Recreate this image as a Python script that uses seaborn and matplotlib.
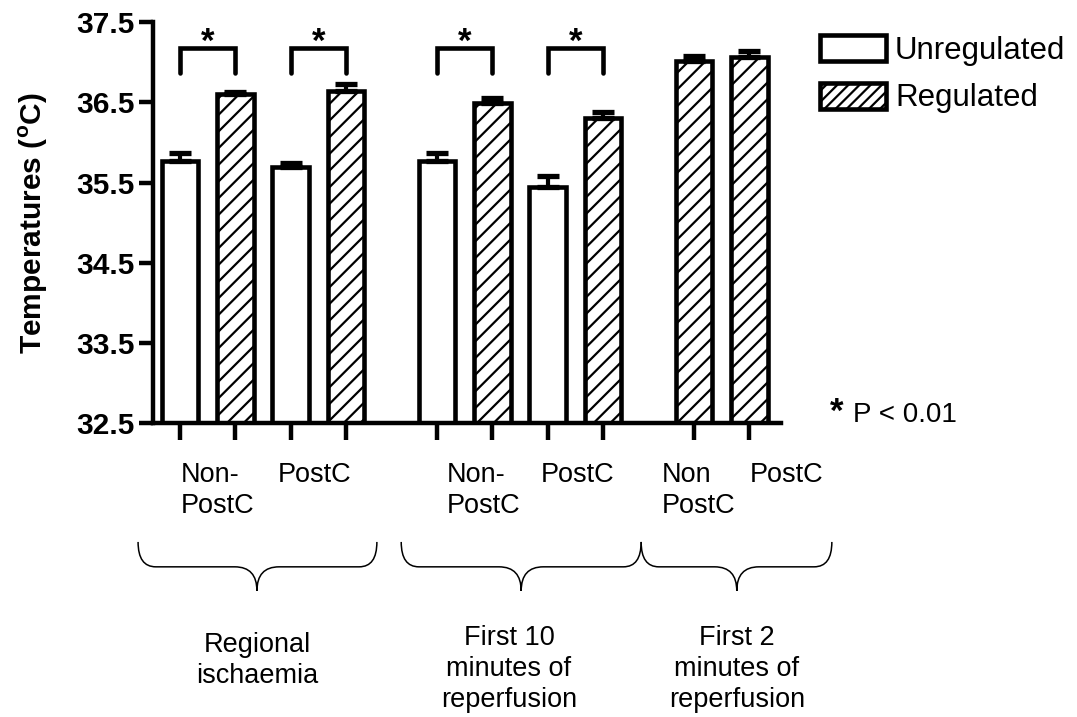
import numpy as np
import pandas as pd
import matplotlib
matplotlib.use("Agg")
import matplotlib.pyplot as plt
from matplotlib.path import Path
from matplotlib.patches import PathPatch, Patch
import seaborn as sns

# ---------------- data ----------------
phases = ["Regional\nischaemia", "First 10\nminutes of\nreperfusion", "First 2\nminutes of\nreperfusion"]
treatments = ["Non-\nPostC", "PostC", "Non-\nPostC", "PostC", "Non\nPostC", "PostC"]
treatment_phase = [0, 0, 1, 1, 2, 2]
conditions = ["Unregulated", "Regulated"]
unregulated_mean = [35.77, 35.69, 35.77, 35.44, np.nan, np.nan]
unregulated_sem = [0.10, 0.05, 0.10, 0.14, np.nan, np.nan]
regulated_mean = [36.60, 36.64, 36.49, 36.30, 37.02, 37.06]
regulated_sem = [0.03, 0.09, 0.06, 0.08, 0.06, 0.08]
significant = [True, True, True, True, False, False]
y_ticks = [32.5, 33.5, 34.5, 35.5, 36.5, 37.5]
p_note = "P < 0.01"

# ---------------- build bar table (layout positions) ----------------
rows = []
pos = 0.0
prev_phase = 0
for i, t in enumerate(treatments):
    if treatment_phase[i] != prev_phase:
        pos += 0.65
        prev_phase = treatment_phase[i]
    for cond, m, s in ((conditions[0], unregulated_mean[i], unregulated_sem[i]),
                       (conditions[1], regulated_mean[i], regulated_sem[i])):
        if np.isnan(m):
            continue
        rows.append(dict(pos=round(pos, 3), temp=m, err=s, cond=cond, treat=i))
        pos += 1.0
df = pd.DataFrame(rows)

# ---------------- figure ----------------
sns.set_style("ticks")
plt.rcParams["font.family"] = ["Liberation Sans", "DejaVu Sans"]
plt.rcParams["mathtext.fontset"] = "custom"
plt.rcParams["mathtext.rm"] = "Liberation Sans"
plt.rcParams["mathtext.bf"] = "Liberation Sans:bold"
plt.rcParams["hatch.linewidth"] = 1.6
plt.rcParams["hatch.color"] = "black"
for k in ("text.color", "axes.labelcolor", "xtick.color", "ytick.color", "axes.edgecolor"):
    plt.rcParams[k] = "black"

W, H = 1077, 717
fig = plt.figure(figsize=(W / 100, H / 100), dpi=100)
fig.patch.set_facecolor("white")
ax = fig.add_axes([153 / W, 1 - 423.5 / H, (781 - 153) / W, (423.5 - 22) / H])

EDGE = 3.3
sns.barplot(data=df, x="pos", y="temp", hue="cond", hue_order=conditions,
            palette={c: "white" for c in conditions}, native_scale=True, dodge=False,
            width=0.66, errorbar=None, edgecolor="black", linewidth=EDGE,
            legend=False, ax=ax)

reg_pos = df.loc[df.cond == "Regulated", "pos"].values
for p in ax.patches:
    cx = p.get_x() + p.get_width() / 2
    if np.any(np.abs(reg_pos - cx) < 0.05):
        p.set_hatch("//")
    p.set_zorder(2)

# error bars (upper only)
ax.errorbar(df["pos"], df["temp"], yerr=[np.zeros(len(df)), df["err"].values], fmt="none",
            ecolor="black", elinewidth=3.0, capsize=8, capthick=3.8, zorder=3)

ax.set_xlim(-0.49, 10.87)
ax.set_ylim(32.5, 37.5)
ax.set_xticks(df["pos"].values)
ax.set_xticklabels([])
ax.set_yticks(y_ticks)
ax.set_yticklabels([f"{v:.1f}" for v in y_ticks], fontsize=21.5, fontweight="bold",
                   color="black")
ax.tick_params(axis="y", length=10, width=3.2, pad=3, color="black")
ax.tick_params(axis="x", length=12, width=3.2, color="black")
ax.set_xlabel("")
sns.despine(ax=ax)
for s in ("left", "bottom"):
    ax.spines[s].set_linewidth(3.2)
    ax.spines[s].set_color("black")
    ax.spines[s].set_capstyle("projecting")

ax.set_ylabel(r"Temperatures ($^{\mathbf{o}}$C)", fontsize=21.5, fontweight="bold",
              color="black")
ax.yaxis.set_label_coords(-0.164, 0.5)

# significance brackets
for i, sig in enumerate(significant):
    if not sig:
        continue
    sub = df[df.treat == i]
    x0 = sub.loc[sub.cond == "Unregulated", "pos"].values[0]
    x1 = sub.loc[sub.cond == "Regulated", "pos"].values[0]
    ax.plot([x0, x0, x1, x1], [36.86, 37.18, 37.18, 36.86], color="black", lw=3.3,
            solid_capstyle="round", solid_joinstyle="miter", clip_on=False, zorder=4)
    ax.text((x0 + x1) / 2, 37.13, "*", ha="center", va="baseline", fontsize=25,
            fontweight="bold", clip_on=False, color="black")

# treatment labels under the axis
tx = ax.get_xaxis_transform()
label_offsets = [0.02, -0.23, 0.18, -0.12, -0.58, 0.01]
for i, t in enumerate(treatments):
    first = df[df.treat == i]["pos"].min()
    ax.text(first + label_offsets[i], -0.097, t, transform=tx, ha="left", va="top",
            fontsize=19.5, linespacing=1.24, multialignment="left", color="black")

# braces and phase labels
brace_x = [(-0.76, 3.56, 1.39), (4.0, 8.34, 6.17), (8.34, 11.79, 10.07)]
y_top, y_mid, y_tip = -0.295, -0.357, -0.417
r_end, r_tip = 0.32, 0.40
for (x0, x1, xt) in brace_x:
    verts = [(x0, y_top), (x0, y_mid), (x0 + r_end, y_mid),
             (xt - r_tip, y_mid),
             (xt, y_mid), (xt, y_tip),
             (xt, y_mid), (xt + r_tip, y_mid),
             (x1 - r_end, y_mid),
             (x1, y_mid), (x1, y_top)]
    codes = [Path.MOVETO, Path.CURVE3, Path.CURVE3, Path.LINETO,
             Path.CURVE3, Path.CURVE3, Path.CURVE3, Path.CURVE3,
             Path.LINETO, Path.CURVE3, Path.CURVE3]
    ax.add_patch(PathPatch(Path(verts, codes), facecolor="none", edgecolor="black",
                           lw=1.1, transform=tx, clip_on=False))

phase_y = [-0.519, -0.502, -0.502]
for k, ph in enumerate(phases):
    ax.text(brace_x[k][2] - (0.0 if k != 1 else 0.22), phase_y[k], ph, transform=tx,
            ha="center", va="top", fontsize=19.5, linespacing=1.24,
            multialignment="center", color="black")

# legend
handles = [Patch(facecolor="white", edgecolor="black", linewidth=EDGE, label=conditions[0]),
           Patch(facecolor="white", edgecolor="black", linewidth=EDGE, hatch="///",
                 label=conditions[1])]
fig.legend(handles=handles, loc="upper left", bbox_to_anchor=(820 / W, 1 - 35 / H),
           frameon=False, fontsize=22.5, handlelength=2.1, handleheight=0.92,
           handletextpad=0.3, labelspacing=0.53, borderpad=0, borderaxespad=0,
           labelcolor="black")

# p-value note
fig.text(830 / W, 1 - 422 / H, "*", fontsize=25, fontweight="bold", va="baseline",
         color="black")
fig.text(853 / W, 1 - 422 / H, p_note, fontsize=20, va="baseline", color="black")

fig.savefig("out.png", dpi=100, facecolor="white")
